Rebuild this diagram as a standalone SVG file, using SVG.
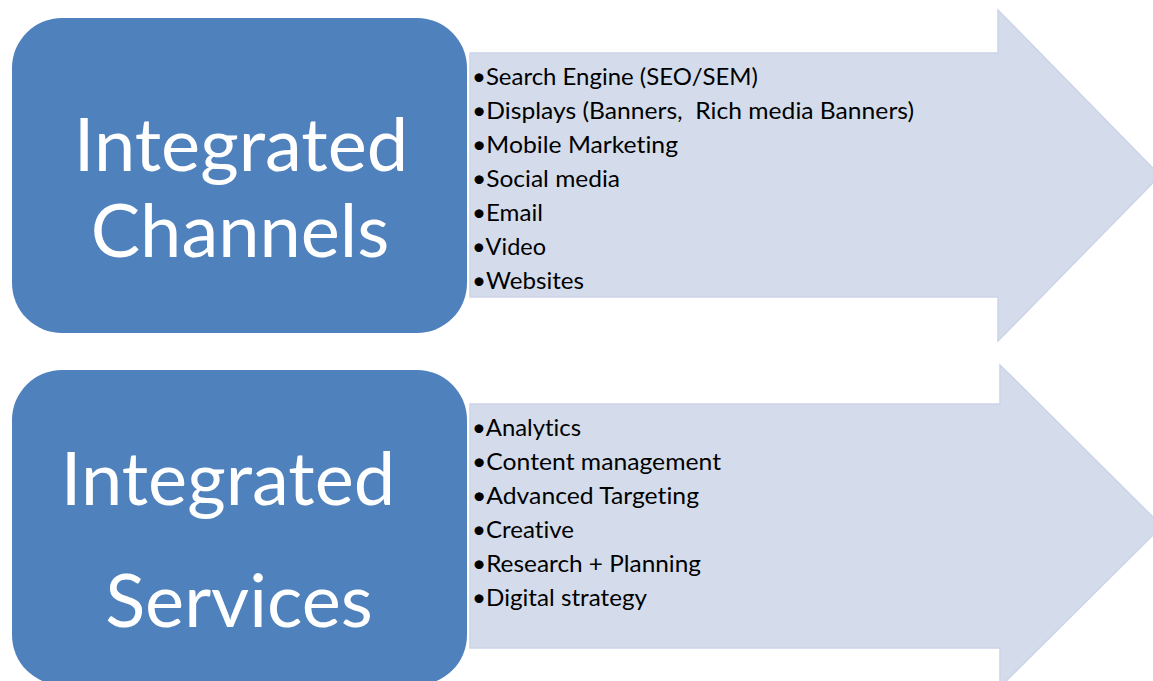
<svg xmlns="http://www.w3.org/2000/svg" width="1153" height="681" viewBox="0 0 1153 681">
<style>
.box{fill:#4F81BD;}
.arrow{fill:#D4DCEB;stroke:#CCD4E8;stroke-width:1.5;}
.big{font-family:Lato,"Open Sans","Liberation Sans",sans-serif;font-size:74px;fill:#FFFFFF;text-anchor:middle;font-variant-ligatures:none;}
.item{font-family:Lato,"Open Sans","Liberation Sans",sans-serif;font-size:23.5px;fill:#000000;white-space:pre;font-variant-ligatures:none;}
</style>
<rect width="1153" height="681" fill="#FFFFFF"/>
<g id="connectors"></g>
<g id="channels-list">
<path class="arrow" d="M470,53 H998 V10 L1160,175.5 L998,341 V297 H470 Z"/>
<text class="item" x="472" y="85" textLength="286" lengthAdjust="spacingAndGlyphs">•Search Engine (SEO/SEM)</text>
<text class="item" x="472" y="119" textLength="442" lengthAdjust="spacingAndGlyphs">•Displays (Banners,  Rich media Banners)</text>
<text class="item" x="472" y="153" textLength="206" lengthAdjust="spacingAndGlyphs">•Mobile Marketing</text>
<text class="item" x="472" y="187" textLength="148" lengthAdjust="spacingAndGlyphs">•Social media</text>
<text class="item" x="472" y="221" textLength="71" lengthAdjust="spacingAndGlyphs">•Email</text>
<text class="item" x="472" y="255" textLength="74" lengthAdjust="spacingAndGlyphs">•Video</text>
<text class="item" x="472" y="289" textLength="112" lengthAdjust="spacingAndGlyphs">•Websites</text>
</g>
<g id="services-list">
<path class="arrow" d="M470,404 H1000 V365 L1162,526 L1000,687 V648 H470 Z"/>
<text class="item" x="472" y="436" textLength="109" lengthAdjust="spacingAndGlyphs">•Analytics</text>
<text class="item" x="472" y="470" textLength="249" lengthAdjust="spacingAndGlyphs">•Content management</text>
<text class="item" x="472" y="504" textLength="227" lengthAdjust="spacingAndGlyphs">•Advanced Targeting</text>
<text class="item" x="472" y="538" textLength="102" lengthAdjust="spacingAndGlyphs">•Creative</text>
<text class="item" x="472" y="572" textLength="229" lengthAdjust="spacingAndGlyphs">•Research + Planning</text>
<text class="item" x="472" y="606" textLength="175" lengthAdjust="spacingAndGlyphs">•Digital strategy</text>
</g>
<g id="integrated-channels">
<rect class="box" x="12" y="18" width="455" height="315" rx="50" ry="50"/>
<text class="big" x="241" y="171">Integrated</text>
<text class="big" x="240" y="257">Channels</text>
</g>
<g id="integrated-services">
<rect class="box" x="12" y="370" width="455" height="315" rx="50" ry="50"/>
<text class="big" x="228" y="505">Integrated</text>
<text class="big" x="239" y="627">Services</text>
</g>
</svg>
